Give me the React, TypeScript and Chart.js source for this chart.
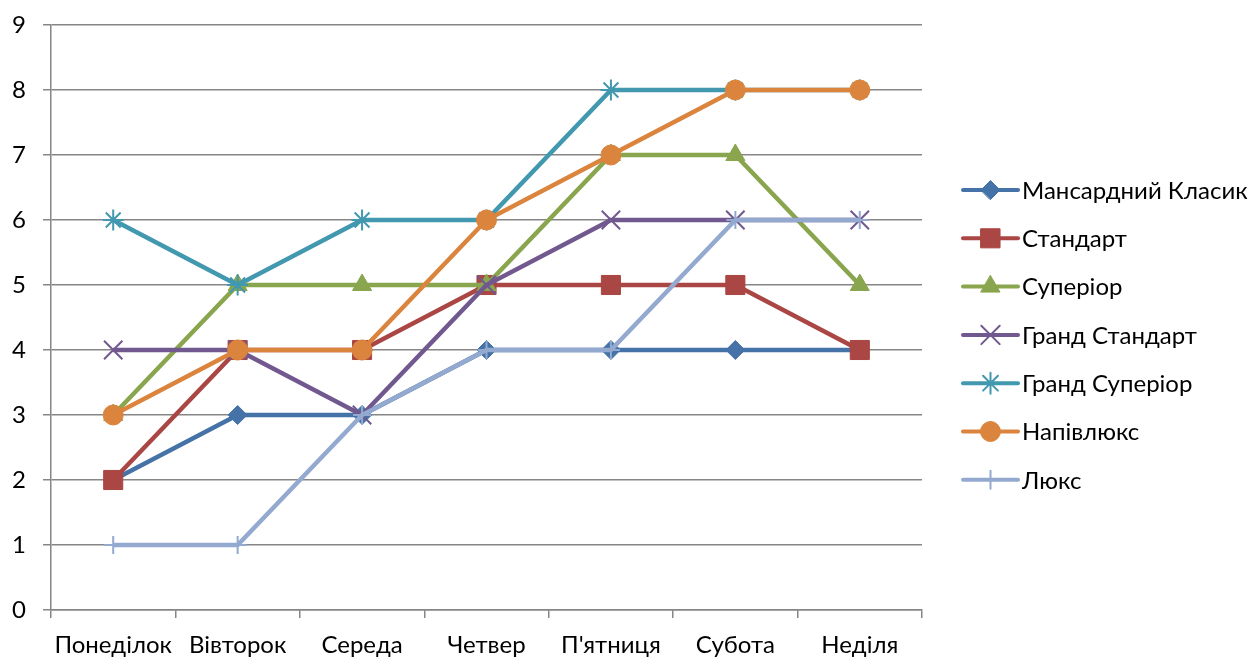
import React, { useEffect, useRef } from "react";
import { Chart, registerables } from "chart.js";
import { drawPoint } from "chart.js/helpers";

Chart.register(...registerables);

const days = ["Понеділок", "Вівторок", "Середа", "Четвер", "П'ятниця", "Субота", "Неділя"];

const mansardClassic = [2, 3, 3, 4, 4, 4, 4];
const standard = [2, 4, 4, 5, 5, 5, 4];
const superior = [3, 5, 5, 5, 7, 7, 5];
const grandStandard = [4, 4, 3, 5, 6, 6, 6];
const grandSuperior = [6, 5, 6, 6, 8, 8, 8];
const semiLux = [3, 4, 4, 6, 7, 8, 8];
const lux = [1, 1, 3, 4, 4, 6, 6];

const seriesNames = [
  "Мансардний Класик",
  "Стандарт",
  "Суперіор",
  "Гранд Стандарт",
  "Гранд Суперіор",
  "Напівлюкс",
  "Люкс",
];
const seriesValues = [mansardClassic, standard, superior, grandStandard, grandSuperior, semiLux, lux];
const seriesColors = ["#4572A7", "#AA4643", "#89A54E", "#71588F", "#4198AF", "#DB843D", "#93A9CF"];
const markerStyles = ["rectRot", "rect", "triangle", "crossRot", "star", "circle", "cross"];
const markerRadius = [9.5, 13.5, 11, 13, 10.5, 10, 9];

const FONT = "Lato, 'Open Sans', sans-serif";
const FONT_SIZE = 24;
const GRID = "#868686";

// Legend on the right: short line segment with the series marker, then the name
const sideLegend = {
  id: "sideLegend",
  afterDraw(chart: any) {
    const ctx = chart.ctx;
    const area = chart.chartArea;
    const x0 = area.right + 41;
    const x1 = area.right + 96;
    const top = area.top + 165;
    const step = 48.3;
    ctx.save();
    chart.data.datasets.forEach((ds: any, i: number) => {
      const y = top + i * step;
      ctx.strokeStyle = ds.borderColor;
      ctx.lineWidth = 4;
      ctx.lineCap = "round";
      ctx.beginPath();
      ctx.moveTo(x0, y);
      ctx.lineTo(x1, y);
      ctx.stroke();
      ctx.fillStyle = ds.pointBackgroundColor;
      ctx.strokeStyle = ds.pointBorderColor;
      ctx.lineWidth = ds.pointBorderWidth;
      drawPoint(ctx, { pointStyle: ds.pointStyle, radius: ds.pointRadius, borderWidth: ds.pointBorderWidth, rotation: 0 }, (x0 + x1) / 2, y);
      ctx.fillStyle = "#000";
      ctx.font = `${FONT_SIZE}px ${FONT}`;
      ctx.textAlign = "left";
      ctx.textBaseline = "middle";
      ctx.fillText(ds.label, x1 + 4, y + 1);
    });
    ctx.restore();
  },
};

export default function App() {
  const canvasRef = useRef<HTMLCanvasElement | null>(null);

  useEffect(() => {
    const canvas = canvasRef.current;
    if (!canvas) return;
    const datasets = seriesNames.map((name, i) => {
      const lineLike = ["crossRot", "star", "cross"].includes(markerStyles[i]);
      return {
        label: name,
        data: seriesValues[i],
        borderColor: seriesColors[i],
        backgroundColor: seriesColors[i],
        borderWidth: 4.5,
        tension: 0,
        pointStyle: markerStyles[i],
        pointRadius: markerRadius[i],
        pointHoverRadius: markerRadius[i],
        pointBackgroundColor: seriesColors[i],
        pointBorderColor: seriesColors[i],
        pointBorderWidth: lineLike ? 2 : 1,
        order: seriesNames.length - 1 - i,
      };
    });

    const chart = new Chart(canvas, {
      type: "line",
      data: { labels: days, datasets },
      options: {
        responsive: false,
        animation: false,
        events: [],
        layout: { padding: { top: 25, right: 334, bottom: 0, left: 0 } },
        plugins: {
          legend: { display: false },
          tooltip: { enabled: false },
        },
        scales: {
          x: {
            offset: true,
            grid: {
              offset: true,
              drawOnChartArea: false,
              drawTicks: true,
              tickLength: 8,
              color: GRID,
              lineWidth: 1.5,
            },
            border: { color: GRID, width: 1.5 },
            ticks: {
              color: "#000",
              font: { family: FONT, size: FONT_SIZE },
              padding: 13,
              maxRotation: 0,
              autoSkip: false,
            },
            afterFit(scale: any) {
              scale.height = 48;
              scale.paddingLeft = 0;
              scale.paddingRight = 0;
            },
          },
          y: {
            min: 0,
            max: 9,
            grid: {
              color: GRID,
              lineWidth: 1.5,
              tickLength: 8,
            },
            border: { color: GRID, width: 1.5 },
            ticks: {
              stepSize: 1,
              color: "#000",
              font: { family: FONT, size: FONT_SIZE },
              padding: 17,
            },
            afterFit(scale: any) {
              scale.width = 51;
              scale.paddingTop = 0;
              scale.paddingBottom = 0;
            },
          },
        },
      },
      plugins: [sideLegend],
    });

    return () => chart.destroy();
  }, []);

  return (
    <div style={{ position: "fixed", left: 0, top: 0, width: 1256, height: 658, background: "#fff" }}>
      <canvas ref={canvasRef} width={1256} height={658} style={{ width: 1256, height: 658, display: "block" }} />
    </div>
  );
}
